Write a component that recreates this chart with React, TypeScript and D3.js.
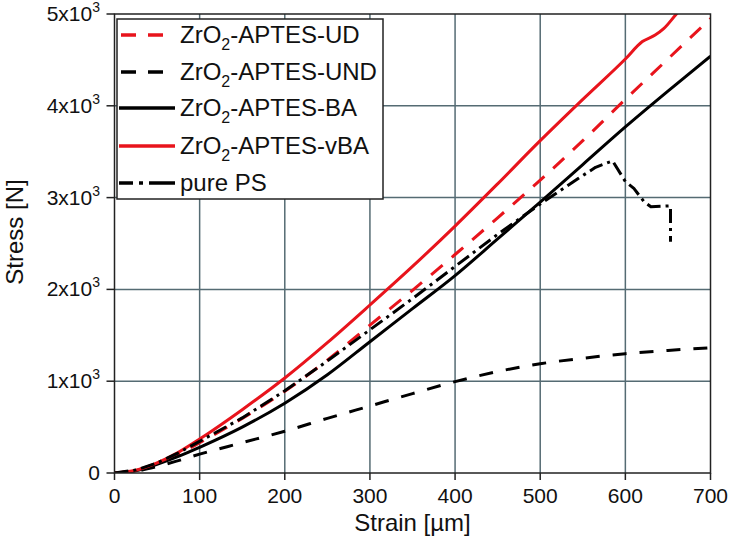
import { useMemo } from "react";
import * as d3 from "d3";

// strain [µm] sample positions shared by the smooth curves
const strainSmooth = [0, 25, 50, 75, 100, 150, 200, 250, 300, 350, 400, 450, 500, 550, 600, 650, 700];

const stressUD = [0, 28, 100, 205, 330, 595, 890, 1230, 1610, 1990, 2380, 2780, 3190, 3620, 4070, 4510, 4950];
const stressUND = [0, 20, 70, 135, 205, 330, 455, 595, 730, 865, 995, 1105, 1190, 1250, 1300, 1335, 1365];
const stressBA = [0, 25, 95, 180, 280, 500, 760, 1070, 1430, 1790, 2150, 2550, 2950, 3360, 3770, 4160, 4540];

const strainVBA = [0, 25, 50, 75, 100, 150, 200, 250, 300, 350, 400, 450, 500, 550, 600, 620, 635, 645, 660, 670];
const stressVBA = [0, 30, 110, 225, 370, 690, 1035, 1420, 1830, 2250, 2690, 3150, 3620, 4070, 4510, 4700, 4770, 4840, 5000, 5100];

const strainPS = [0, 25, 50, 75, 100, 150, 200, 250, 300, 350, 400, 450, 500, 545, 565, 585, 600, 610, 622, 630, 653, 653];
const stressPS = [0, 32, 110, 220, 345, 600, 895, 1220, 1560, 1900, 2250, 2600, 2930, 3210, 3330, 3400, 3175, 3100, 2955, 2900, 2910, 2520];

const xTicks = [0, 100, 200, 300, 400, 500, 600, 700];
const yTicks = [0, 1000, 2000, 3000, 4000, 5000];

const RED = "#e8141c";
const GRID = "#556b73";
const FONT = "'Liberation Sans', Arial, Helvetica, sans-serif";

type Series = {
  key: string;
  suffix: string | null; // null -> plain label
  label: string;
  xs: number[];
  ys: number[];
  color: string;
  dash: string | undefined;
  legendDash: string | undefined;
  smooth: boolean;
};

const series: Series[] = [
  { key: "UD", suffix: "-APTES-UD", label: "", xs: strainSmooth, ys: stressUD, color: RED, dash: "15 12", legendDash: "0 2 15 12 15 100", smooth: true },
  { key: "UND", suffix: "-APTES-UND", label: "", xs: strainSmooth, ys: stressUND, color: "#000", dash: "14 13", legendDash: "0 2 15 12 15 100", smooth: true },
  { key: "BA", suffix: "-APTES-BA", label: "", xs: strainSmooth, ys: stressBA, color: "#000", dash: undefined, legendDash: undefined, smooth: true },
  { key: "vBA", suffix: "-APTES-vBA", label: "", xs: strainVBA, ys: stressVBA, color: RED, dash: undefined, legendDash: undefined, smooth: true },
  { key: "PS", suffix: null, label: "pure PS", xs: strainPS, ys: stressPS, color: "#000", dash: "14 5 3 5", legendDash: "14 6 4 6 30", smooth: false },
];

const W = 731;
const H = 550;
const PLOT = { left: 114.5, right: 710.5, top: 14, bottom: 473 };

export default function App() {
  const x = useMemo(() => d3.scaleLinear().domain([0, 700]).range([PLOT.left, PLOT.right]), []);
  const y = useMemo(() => d3.scaleLinear().domain([0, 5000]).range([PLOT.bottom, PLOT.top]), []);

  const paths = series.map((s) => {
    const gen = d3
      .line<number>()
      .x((_, i) => x(s.xs[i]))
      .y((d) => y(d))
      .curve(s.smooth ? d3.curveMonotoneX : d3.curveLinear);
    return { ...s, d: gen(s.ys) ?? "" };
  });

  const legendX = 117;
  const legendY = 19;
  const rowY = [35, 72, 108, 146, 183];

  return (
    <svg
      width={W}
      height={H}
      style={{ position: "absolute", left: 0, top: 0, background: "#fff" }}
      fontFamily={FONT}
    >
      <defs>
        <clipPath id="plot-clip">
          <rect x={PLOT.left} y={PLOT.top} width={PLOT.right - PLOT.left} height={PLOT.bottom - PLOT.top} />
        </clipPath>
      </defs>

      {/* grid */}
      {xTicks.slice(1, -1).map((t) => (
        <line key={"gx" + t} x1={x(t)} x2={x(t)} y1={PLOT.top} y2={PLOT.bottom} stroke={GRID} strokeWidth={1.5} />
      ))}
      {yTicks.slice(1, -1).map((t) => (
        <line key={"gy" + t} x1={PLOT.left} x2={PLOT.right} y1={y(t)} y2={y(t)} stroke={GRID} strokeWidth={1.5} />
      ))}

      {/* curves */}
      <g clipPath="url(#plot-clip)" fill="none" strokeLinejoin="round">
        {paths.map((p) => (
          <path key={p.key} d={p.d} stroke={p.color} strokeWidth={3} strokeDasharray={p.dash} />
        ))}
      </g>

      {/* frame */}
      <rect
        x={PLOT.left}
        y={PLOT.top}
        width={PLOT.right - PLOT.left}
        height={PLOT.bottom - PLOT.top}
        fill="none"
        stroke="#222"
        strokeWidth={1.5}
      />

      {/* x axis ticks + labels */}
      {xTicks.map((t) => (
        <g key={"xt" + t}>
          <line x1={x(t)} x2={x(t)} y1={PLOT.bottom} y2={PLOT.bottom + 7} stroke="#222" strokeWidth={1.5} />
          <text x={x(t)} y={503} textAnchor="middle" fontSize={21} fill="#111">
            {t}
          </text>
        </g>
      ))}

      {/* y axis ticks + labels */}
      {yTicks.map((t) => (
        <g key={"yt" + t}>
          <line x1={PLOT.left - 8} x2={PLOT.left} y1={y(t)} y2={y(t)} stroke="#222" strokeWidth={1.5} />
          {t === 0 ? (
            <text x={100} y={y(t) + 7} textAnchor="end" fontSize={21} fill="#111">
              0
            </text>
          ) : (
            <text x={100} y={y(t) + 7} textAnchor="end" fontSize={21} fill="#111">
              {`${t / 1000}x10`}
              <tspan fontSize={14} dy={-9}>
                3
              </tspan>
            </text>
          )}
        </g>
      ))}

      {/* axis titles */}
      <text x={(PLOT.left + PLOT.right) / 2} y={531} textAnchor="middle" fontSize={24} fill="#111">
        Strain [µm]
      </text>
      <text transform="translate(23,232) rotate(-90)" textAnchor="middle" fontSize={24} fill="#111">
        Stress [N]
      </text>

      {/* legend */}
      <rect x={legendX} y={legendY} width={266} height={180} fill="#fff" stroke="#222" strokeWidth={1.5} />
      {paths.map((p, i) => (
        <g key={"lg" + p.key}>
          <line
            x1={119}
            x2={175}
            y1={rowY[i]}
            y2={rowY[i]}
            stroke={p.color}
            strokeWidth={3.5}
            strokeDasharray={p.legendDash}
          />
          <text x={180} y={rowY[i] + 8} fontSize={24} fill="#111">
            {p.suffix ? (
              <>
                ZrO
                <tspan fontSize={16} dy={7}>
                  2
                </tspan>
                <tspan dy={-7}>{p.suffix}</tspan>
              </>
            ) : (
              p.label
            )}
          </text>
        </g>
      ))}
    </svg>
  );
}
